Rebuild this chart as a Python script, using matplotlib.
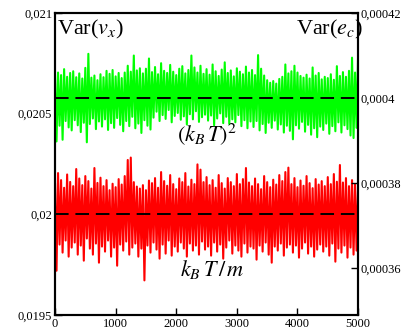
import matplotlib
matplotlib.use("Agg")
import matplotlib.pyplot as plt
from matplotlib.ticker import FuncFormatter

plt.rcParams['font.family'] = ['Liberation Serif', 'DejaVu Serif']
plt.rcParams['mathtext.fontset'] = 'stix'

# time steps, one sample every 25 steps from 0 to 5000
steps = list(range(0, 5001, 25))

# Var(e_c) in units of 1e-6 (right axis): successive maxima / minima of the trace
green_peaks = [405.2, 406.0, 405.4, 406.8, 405.0, 405.9,
               406.3, 404.9, 405.8, 404.6, 407.1,
               410.4,
               404.8, 405.3, 404.2, 405.6, 404.9,
               406.4, 405.7, 406.6, 405.1,
               405.9, 404.7, 406.0, 407.6,
               406.2, 410.0,
               406.5, 407.0, 405.8, 406.9, 409.3,
               406.1, 407.3, 405.6, 408.2, 406.4, 405.9, 407.8, 406.2, 405.4,
               406.9, 407.5, 405.8, 406.6, 410.0, 407.2, 406.0, 407.6, 405.7,
               406.8, 405.5, 407.9, 406.3, 405.2, 406.7, 408.4, 405.9, 406.5,
               405.1, 407.0, 406.2, 405.6, 407.4, 406.0,
               406.6, 405.4, 410.1, 406.9, 405.3, 404.2, 403.6, 404.0, 403.4,
               404.5, 405.0, 407.9,
               405.8, 406.3, 407.6, 406.0, 405.2, 404.8, 405.5, 404.6, 407.2,
               405.3, 405.9,
               404.4, 405.0, 404.7, 405.6, 404.3, 407.5, 405.2, 406.1, 405.0,
               406.4, 409.5, 406.0, 410.0]
green_troughs = [389.8, 393.5, 390.2, 394.6, 393.1,
                 392.4, 394.8, 393.6, 392.0, 394.2, 389.6,
                 393.9, 395.2, 392.7, 394.5, 393.3, 395.0, 392.5, 394.1, 393.0, 395.3,
                 393.7, 392.2, 394.6, 393.4, 395.6, 392.9, 394.0, 391.8, 394.8, 393.5, 392.6,
                 395.4, 396.8, 394.6, 396.0, 395.1, 397.2, 394.3, 395.8, 396.5,
                 394.9, 395.7, 393.8, 396.2, 395.0, 396.9, 394.4, 395.5, 396.1,
                 394.7, 395.9, 393.6, 395.2, 396.4, 394.1, 395.6, 393.9, 395.0,
                 394.3, 396.0, 393.4, 394.8, 392.9, 394.5,
                 393.2, 394.6, 392.4, 393.9, 391.8, 394.2, 393.0, 394.7, 392.6,
                 393.8, 391.9, 393.5,
                 392.3, 390.3, 393.6, 392.8, 394.4, 392.1, 393.7, 391.4, 392.9,
                 390.8, 393.3,
                 392.5, 394.0, 391.6, 393.4, 392.2, 394.3, 391.9, 393.6, 392.7,
                 391.2, 390.6, 393.0]

# Var(v_x) in units of 1e-3 (left axis): successive maxima / minima of the trace
red_peaks = [20.150, 20.205, 20.170, 20.132, 20.198, 20.161, 20.140, 20.225, 20.178, 20.145, 20.190,
             20.165, 20.128, 20.230, 20.156, 20.182, 20.140, 20.170, 20.120, 20.152, 20.135,
             20.175, 20.148, 20.190, 20.270, 20.282, 20.160, 20.138, 20.128, 20.145, 20.120, 20.168,
             20.155, 20.180, 20.132, 20.210, 20.165, 20.142, 20.195, 20.150, 20.125,
             20.178, 20.160, 20.205, 20.138, 20.172, 20.150, 20.248, 20.222, 20.160,
             20.185, 20.145, 20.170, 20.132, 20.195, 20.155, 20.128, 20.180, 20.160,
             20.140, 20.200, 20.150, 20.175, 20.230, 20.158,
             20.140, 20.178, 20.150, 20.125, 20.190, 20.160, 20.135, 20.172, 20.148,
             20.195, 20.165, 20.210,
             20.232, 20.150, 20.180, 20.135, 20.168, 20.142, 20.190, 20.155, 20.130,
             20.175, 20.148,
             20.165, 20.140, 20.185, 20.150, 20.200, 20.162, 20.245, 20.158, 20.180,
             20.140, 20.170, 20.150, 20.130]
red_troughs = [19.720, 19.850, 19.810, 19.870, 19.790, 19.835, 19.860, 19.800, 19.845, 19.770, 19.880,
               19.830, 19.800, 19.855, 19.760, 19.840, 19.815, 19.870, 19.790, 19.835, 19.745,
               19.850, 19.820, 19.865, 19.800, 19.835, 19.855, 19.790, 19.830, 19.672, 19.845, 19.810,
               19.860, 19.825, 19.780, 19.850, 19.805, 19.870, 19.795, 19.840, 19.815,
               19.860, 19.830, 19.790, 19.855, 19.820, 19.845, 19.800, 19.865, 19.825,
               19.840, 19.795, 19.860, 19.815, 19.850, 19.780, 19.835, 19.870, 19.805,
               19.845, 19.820, 19.790, 19.855, 19.810, 19.840,
               19.830, 19.775, 19.845, 19.815, 19.860, 19.800, 19.760, 19.840, 19.820,
               19.855, 19.795, 19.835,
               19.850, 19.810, 19.845, 19.785, 19.830, 19.860, 19.805, 19.840, 19.790,
               19.825, 19.850,
               19.815, 19.840, 19.795, 19.855, 19.765, 19.830, 19.810, 19.845, 19.785,
               19.835, 19.800, 19.820]

kT_over_m = 0.02
kT_sq = 0.0004

left_ticks = [0.0195, 0.02, 0.0205, 0.021]
right_ticks = [0.00036, 0.00038, 0.0004, 0.00042]
x_ticks = [0, 1000, 2000, 3000, 4000, 5000]


def interleave(peaks, troughs):
    out = []
    for i, p in enumerate(peaks):
        out.append(p)
        if i < len(troughs):
            out.append(troughs[i])
    return out


green = [v * 1e-6 for v in interleave(green_peaks, green_troughs)]
red = [v * 1e-3 for v in interleave(red_peaks, red_troughs)]

fig = plt.figure(figsize=(4.06, 3.33), dpi=100)
ax = fig.add_axes([0.1355, 0.054, 0.7465, 0.907])
ax2 = ax.twinx()

ax.plot(steps, red, color='#ff0000', lw=1.5)
ax.axhline(kT_over_m, color='black', lw=1.4, dashes=(7, 3.5))
ax2.plot(steps, green, color='#00ff00', lw=1.5)
ax2.axhline(kT_sq, color='black', lw=1.4, dashes=(7, 3.5))

ax.set_xlim(0, 5000)
ax.set_ylim(0.0195, 0.021)
ax2.set_ylim(0.000349, 0.00042)

fmt = FuncFormatter(lambda v, p: '{:g}'.format(v).replace('.', ','))
ax.set_xticks(x_ticks)
ax.set_yticks(left_ticks)
ax2.set_yticks(right_ticks)
ax.yaxis.set_major_formatter(fmt)
ax2.yaxis.set_major_formatter(fmt)

ax.tick_params(axis='both', direction='in', length=5, width=1, labelsize=9, pad=2)
ax2.tick_params(axis='y', direction='in', length=5, width=1, labelsize=9, pad=2)
for a in (ax, ax2):
    for s in a.spines.values():
        s.set_linewidth(1.5)

ax.text(0.005, 0.985, r'Var($v_x$)', transform=ax.transAxes, fontsize=16,
        ha='left', va='top')
ax2.text(1.015, 0.985, r'Var($e_c$)', transform=ax2.transAxes, fontsize=16,
         ha='right', va='top')
ax2.text(0.5, 0.6, r'$(k_B\,T)^2$', transform=ax2.transAxes, fontsize=16,
         ha='center', va='center')
ax.text(0.52, 0.152, r'$k_B\,T\,/\,m$', transform=ax.transAxes, fontsize=16,
        ha='center', va='center')

fig.savefig('out.png', dpi=100)
